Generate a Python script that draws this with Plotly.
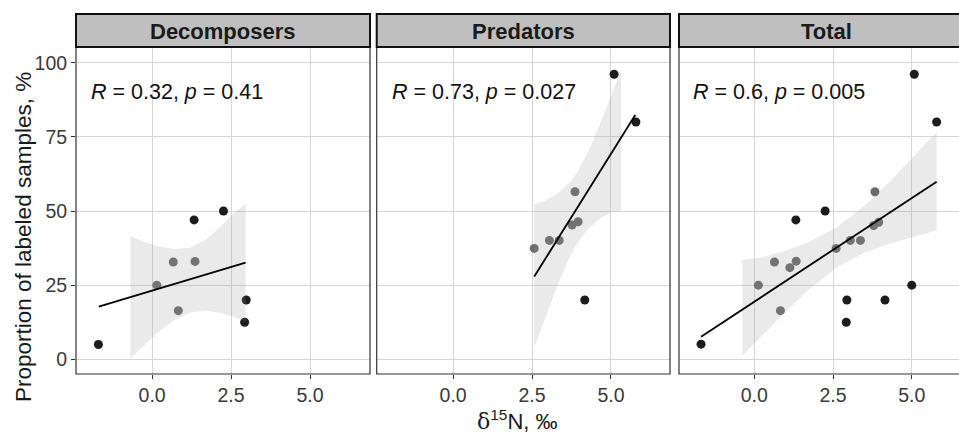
import plotly.graph_objects as go

# ---------------- data ----------------
panels = ["Decomposers", "Predators", "Total"]
stat_labels = ["<i>R</i> = 0.32, <i>p</i> = 0.41",
               "<i>R</i> = 0.73, <i>p</i> = 0.027",
               "<i>R</i> = 0.6, <i>p</i> = 0.005"]

dec_x = [-1.70, 0.15, 0.67, 1.36, 0.83, 1.33, 2.26, 2.98, 2.93]
dec_y = [5.0, 25.0, 32.8, 33.0, 16.4, 47.0, 50.0, 20.0, 12.5]
dec_g = ["d", "g", "g", "g", "g", "d", "d", "d", "d"]

pred_x = [5.10, 5.79, 3.86, 3.77, 3.96, 3.05, 3.36, 2.57, 4.17]
pred_y = [96.1, 80.0, 56.5, 45.3, 46.4, 40.1, 40.1, 37.4, 20.0]
pred_g = ["d", "d", "g", "g", "g", "g", "g", "g", "d"]

tot_x = [-1.69, 0.13, 0.64, 1.33, 1.13, 0.83, 1.32, 2.25, 2.94, 2.92,
         5.00, 4.15, 5.08, 5.79, 3.83, 3.79, 3.95, 3.05, 3.37, 2.60]
tot_y = [5.1, 25.0, 32.8, 33.1, 30.9, 16.4, 47.0, 50.0, 20.0, 12.5,
         25.0, 20.0, 96.1, 80.0, 56.5, 45.1, 46.2, 40.1, 40.1, 37.4]
tot_g = ["d", "g", "g", "g", "g", "g", "d", "d", "d", "d",
         "d", "d", "d", "d", "g", "g", "g", "g", "g", "g"]

# regression lines (end points)
dec_fit_x, dec_fit_y = [-1.69, 2.96], [17.75, 32.6]
pred_fit_x, pred_fit_y = [2.57, 5.77], [27.9, 82.4]
tot_fit_x, tot_fit_y = [-1.69, 5.79], [7.6, 59.9]

# confidence bands
dec_band_x = [-0.69, -0.3, 0.2, 0.7, 1.2, 1.7, 2.2, 2.6, 2.96]
dec_band_lo = [0.1, 4.3, 9.2, 13.2, 15.8, 16.4, 15.6, 14.3, 12.7]
dec_band_hi = [41.5, 39.8, 38.0, 37.2, 37.6, 40.3, 45.0, 49.5, 52.4]

pred_band_x = [2.57, 2.9, 3.3, 3.7, 3.96, 4.3, 4.7, 5.0, 5.32]
pred_band_lo = [4.0, 13.6, 24.8, 34.5, 39.6, 44.3, 47.8, 49.4, 50.2]
pred_band_hi = [52.4, 53.4, 55.9, 59.7, 63.6, 70.4, 80.5, 89.0, 97.5]

tot_band_x = [-0.38, 0.3, 1.0, 1.7, 2.63, 3.5, 4.3, 5.0, 5.79]
tot_band_lo = [1.2, 8.5, 16.1, 23.2, 31.1, 36.0, 39.0, 41.2, 43.5]
tot_band_hi = [33.5, 34.5, 36.7, 39.4, 44.5, 51.8, 59.9, 67.6, 76.6]

x_ticks = [0, 2.5, 5]
x_ticktext = ["0.0", "2.5", "5.0"]
y_ticks = [0, 25, 50, 75, 100]
y_ticktext = ["0", "25", "50", "75", "100"]

# ---------------- styling / layout ----------------
W, H = 959, 436
FONT = "Liberation Sans, Arial, sans-serif"
colors = {"d": "#1c1c1c", "g": "#6b6b6b"}

def px(v):
    return v / W

def py(v):
    return 1 - v / H

panel_px = [(76, 370), (376.7, 670), (679, 973)]
x_ranges = [[-2.41, 6.90], [-2.42, 6.87], [-2.39, 6.50]]
y_range = [-4.95, 105.3]
top_px, bot_px = 47, 374
strip_top = 14

series = [
    (dec_x, dec_y, dec_g, dec_fit_x, dec_fit_y, dec_band_x, dec_band_lo, dec_band_hi),
    (pred_x, pred_y, pred_g, pred_fit_x, pred_fit_y, pred_band_x, pred_band_lo, pred_band_hi),
    (tot_x, tot_y, tot_g, tot_fit_x, tot_fit_y, tot_band_x, tot_band_lo, tot_band_hi),
]

fig = go.Figure()
for i, (xs, ys, gs, fx, fy, bx, blo, bhi) in enumerate(series):
    sfx = "" if i == 0 else str(i + 1)
    xa, ya = "x" + sfx, "y" + sfx
    fig.add_trace(go.Scatter(
        x=xs, y=ys, mode="markers", xaxis=xa, yaxis=ya, showlegend=False,
        marker=dict(size=9, color=[colors[g] for g in gs], line=dict(width=0)),
        hoverinfo="skip"))
    fig.add_trace(go.Scatter(
        x=list(bx) + list(bx)[::-1], y=list(bhi) + list(blo)[::-1],
        mode="lines", fill="toself", fillcolor="rgba(150,150,150,0.2)",
        line=dict(width=0), xaxis=xa, yaxis=ya, showlegend=False, hoverinfo="skip"))
    fig.add_trace(go.Scatter(
        x=fx, y=fy, mode="lines", line=dict(color="#000000", width=1.8),
        xaxis=xa, yaxis=ya, showlegend=False, hoverinfo="skip"))

layout = dict(
    width=W, height=H, margin=dict(l=0, r=0, t=0, b=0),
    paper_bgcolor="white", plot_bgcolor="white",
    font=dict(family=FONT, color="#333333"),
    showlegend=False,
)
shapes, annotations = [], []
for i in range(3):
    sfx = "" if i == 0 else str(i + 1)
    x0, x1 = panel_px[i]
    layout["xaxis" + sfx] = dict(
        domain=[px(x0), min(1.0, px(x1))], range=x_ranges[i], anchor="y" + sfx,
        tickvals=x_ticks, ticktext=x_ticktext, ticks="outside", ticklen=4,
        tickcolor="#333333", tickwidth=1, showgrid=True, gridcolor="#d6d6d6",
        gridwidth=1, zeroline=False, showline=False, ticklabelstandoff=0,
        tickfont=dict(size=19.5, color="#3a3a3a", family=FONT))
    layout["yaxis" + sfx] = dict(
        domain=[py(bot_px), py(top_px)], range=y_range, anchor="x" + sfx,
        tickvals=y_ticks, ticktext=y_ticktext,
        ticks="outside" if i == 0 else "", ticklen=4, tickcolor="#333333",
        tickwidth=1, showticklabels=(i == 0), showgrid=True, gridcolor="#d6d6d6",
        gridwidth=1, zeroline=False, showline=False,
        tickfont=dict(size=19.5, color="#3a3a3a", family=FONT))
    # panel border
    shapes.append(dict(type="rect", xref="paper", yref="paper", layer="above",
                       x0=px(x0), x1=px(x1), y0=py(bot_px), y1=py(top_px),
                       line=dict(color="#333333", width=1.2), fillcolor="rgba(0,0,0,0)"))
    # strip
    shapes.append(dict(type="rect", xref="paper", yref="paper", layer="above",
                       x0=px(x0), x1=px(x1), y0=py(top_px), y1=py(strip_top),
                       line=dict(color="#111111", width=2), fillcolor="#bfbfbf"))
    annotations.append(dict(
        text="<b>%s</b>" % panels[i], xref="paper", yref="paper",
        x=px((x0 + x1) / 2), y=py((top_px + strip_top) / 2 + 1),
        xanchor="center", yanchor="middle", showarrow=False,
        font=dict(size=22, color="#1a1a1a", family=FONT)))
    annotations.append(dict(
        text=stat_labels[i], xref="x" + sfx, yref="y" + sfx, x=-2.0, y=90,
        xanchor="left", yanchor="middle", showarrow=False,
        font=dict(size=21.5, color="#111111", family=FONT)))

annotations.append(dict(
    text="Proportion of labeled samples, %", xref="paper", yref="paper",
    x=px(23), y=py(237), textangle=-90, xanchor="center", yanchor="middle",
    showarrow=False, font=dict(size=22.5, color="#1a1a1a", family=FONT)))
annotations.append(dict(
    text="<span style='font-family:DejaVu Serif'>δ</span><sup>15</sup>N, ‰",
    xref="paper", yref="paper", x=px(517), y=0,
    xanchor="center", yanchor="bottom", showarrow=False,
    font=dict(size=22, color="#1a1a1a", family=FONT)))

layout["shapes"] = shapes
layout["annotations"] = annotations
fig.update_layout(**layout)
fig.write_html("out.html", config={"displayModeBar": False},
               post_script="document.body.style.margin='0px';document.body.style.padding='0px';")
